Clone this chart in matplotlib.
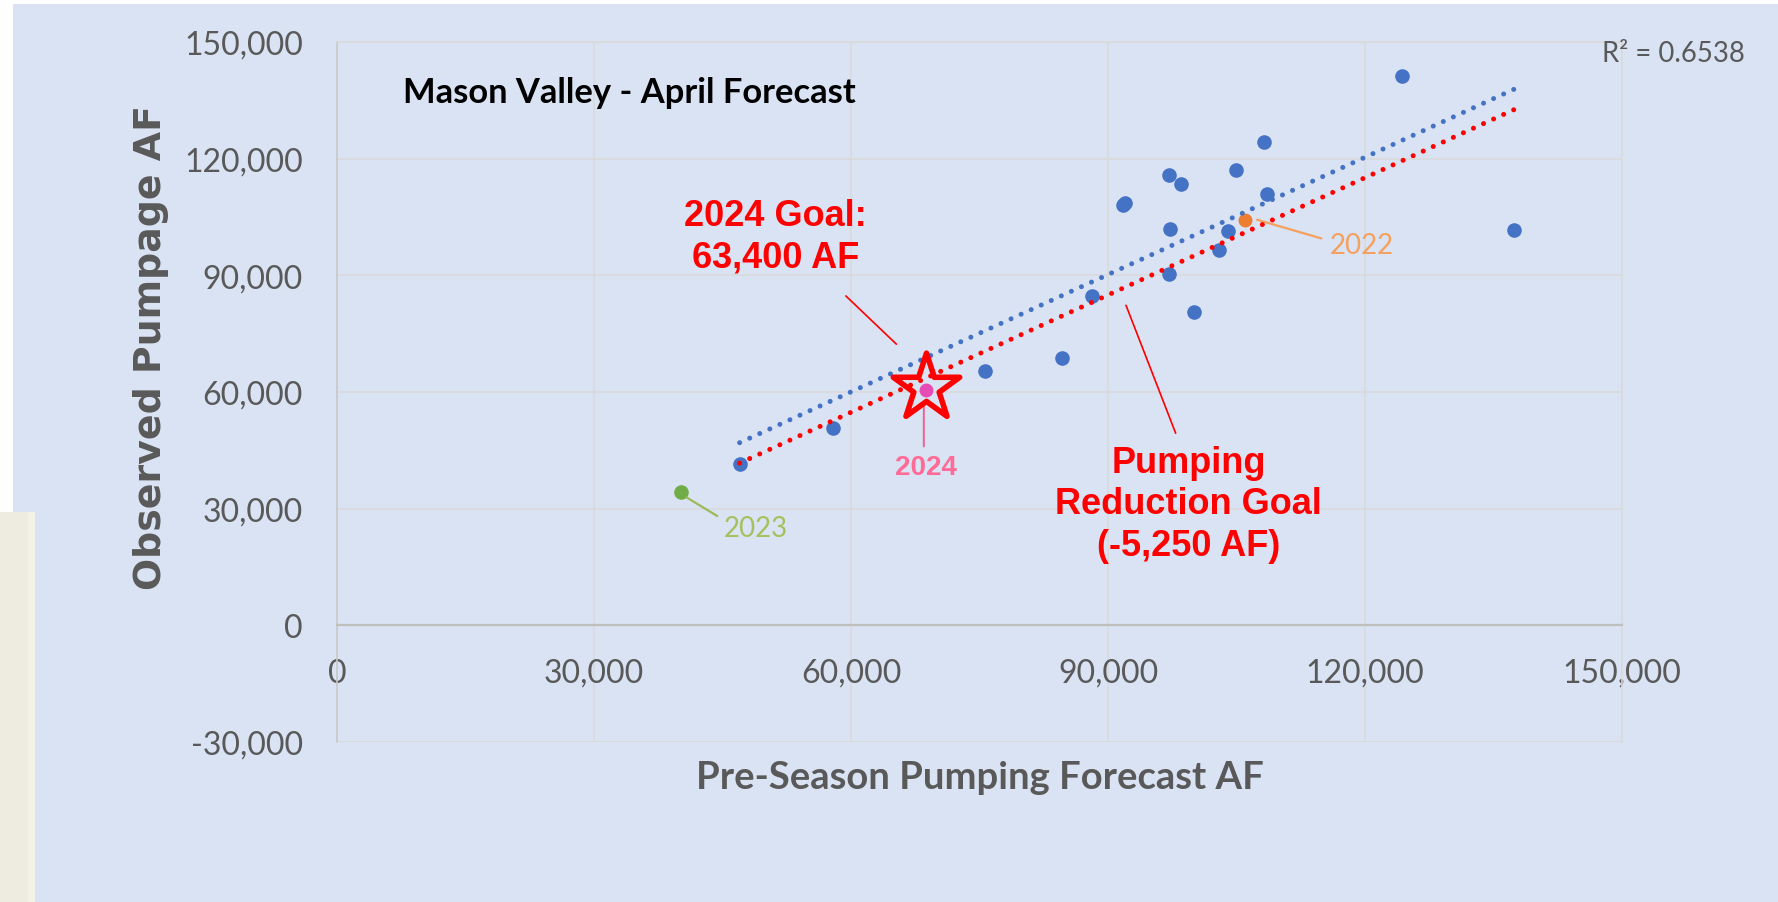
import matplotlib
matplotlib.use("Agg")
import matplotlib.pyplot as plt
from matplotlib.patches import Rectangle
from matplotlib.path import Path
import numpy as np

plt.rcParams['font.family'] = ['Lato', 'DejaVu Sans']

# ---------------- data ----------------
hist_forecast = [47000, 57900, 75600, 84600, 88100, 91700, 92000, 97100, 98500,
                 97200, 97100, 100000, 102900, 104000, 104900, 108200, 108600,
                 124300, 137400]
hist_observed = [41500, 50700, 65300, 68800, 84800, 108100, 108600, 115800, 113400,
                 101900, 90300, 80600, 96600, 101500, 117100, 124200, 111000,
                 141200, 101600]

pt_2022 = (106000, 104300)
pt_2023 = (40100, 34200)
pt_2024 = (68700, 60500)
goal_2024 = 63400
goal_reduction = 5250

trend_slope = 1.0055
trend_intercept = -300
r_squared_text = "R² = 0.6538"

x_ticks = [0, 30000, 60000, 90000, 120000, 150000]
y_ticks = [-30000, 0, 30000, 60000, 90000, 120000, 150000]

# ---------------- figure ----------------
W, H = 1778, 903
fig = plt.figure(figsize=(W / 100, H / 100), dpi=100, facecolor='white')
fig.patches.append(Rectangle((13 / W, 0), 1 - 13 / W, 1 - 5 / H, transform=fig.transFigure,
                             facecolor='#DAE3F3', edgecolor='none', zorder=-10))
# beige paper strip at lower-left
fig.patches.append(Rectangle((0, 0), 33 / W, (H - 513) / H, transform=fig.transFigure,
                             facecolor='#EEECE1', edgecolor='none', zorder=-9))
fig.patches.append(Rectangle((28 / W, 0), 7 / W, (H - 513) / H, transform=fig.transFigure,
                             facecolor='#F3F1E8', edgecolor='none', zorder=-9))

ax = fig.add_axes([337 / W, 1 - 743 / H, 1285 / W, 700 / H])
ax.set_facecolor('#DAE3F3')
ax.set_xlim(0, 150000)
ax.set_ylim(-30000, 150000)
ax.set_xticks(x_ticks)
ax.set_yticks(y_ticks)
ax.set_xticklabels([f"{v:,}" for v in x_ticks])
ax.set_yticklabels([f"{v:,}" for v in y_ticks])
ax.grid(True, color='#D9D9D9', lw=1.1)
ax.set_axisbelow(True)

ax.spines['bottom'].set_position(('data', 0))
ax.spines['bottom'].set_color('#BFBFBF')
ax.spines['bottom'].set_linewidth(1.6)
ax.spines['left'].set_color('#C8C8C8')
ax.spines['left'].set_linewidth(1.2)
for s in ('top', 'right'):
    ax.spines[s].set_color('#D9D9D9')
    ax.spines[s].set_linewidth(1.1)
ax.axhline(-30000, color='#D9D9D9', lw=2.2, zorder=0.5)

ax.tick_params(axis='both', length=0, labelsize=23, labelcolor='#595959')
ax.tick_params(axis='x', pad=23.4)
ax.tick_params(axis='y', pad=24.5)

ax.set_xlabel('Pre-Season Pumping Forecast AF', fontsize=27.5, fontweight='bold', color='#595959')
ax.xaxis.set_label_coords(0.5004, -0.05)
ax.xaxis.label.set_va('center')
ax.set_ylabel('Observed Pumpage AF', fontsize=27.3, fontweight='bold', color='#595959',
              family='DejaVu Sans')
ax.yaxis.set_label_coords(-0.1447, 0.565)
ax.yaxis.label.set_va('center')

ax.text(0.051, 0.929, 'Mason Valley - April Forecast', transform=ax.transAxes,
        fontsize=24.8, fontweight='bold', color='black', ha='left', va='center')
fig.text(0.9414, 0.9398, r_squared_text, fontsize=19.8, color='#595959', ha='center', va='center')

# ---------------- points ----------------
ax.plot(hist_forecast, hist_observed, 'o', ms=10.5, color='#4472C4', mec='none', zorder=3)
ax.plot(*pt_2022, 'o', ms=10, color='#ED7D31', mec='none', zorder=3)
ax.plot(*pt_2023, 'o', ms=10.5, color='#70AD47', mec='none', zorder=3)

# ---------------- trend lines ----------------
tx = np.array([min(hist_forecast), max(hist_forecast)], dtype=float)
ty = trend_slope * tx + trend_intercept
dot = (0, (0.01, 2.2))
ax.plot(tx, ty, color='#4472C4', lw=3.6, ls=dot, dash_capstyle='round', zorder=4)
ax.plot(tx, ty - goal_reduction, color='#FF0000', lw=3.6, ls=dot, dash_capstyle='round', zorder=4)

ax.plot(*pt_2024, 'o', ms=10, color='#E64DB4', mec='none', zorder=5)

# star marker, anchored slightly above its bounding-box centre (as drawn in Excel)
star = Path.unit_regular_star(5, 0.381966)
sv = star.vertices.copy()
sv[:, 1] -= (sv[:, 1].max() + sv[:, 1].min()) / 2 + 0.15
star_path = Path(sv, star.codes)
ax.plot(pt_2024[0], goal_2024, marker=star_path, ms=53, mfc='none', mec='#FF0000',
        mew=4.0, zorder=6)

# ---------------- annotations ----------------
def leader(p0, p1, color, lw):
    ax.annotate('', xy=p1, xytext=p0,
                arrowprops=dict(arrowstyle='-', color=color, lw=lw, shrinkA=0, shrinkB=0))

leader((107400, 104300), (114900, 99500), '#F4A05E', 1.6)
ax.text(115900, 97800, '2022', fontsize=20, color='#F4A05E', ha='left', va='center')

leader((40800, 32900), (44400, 28100), '#9BBB59', 1.6)
ax.text(45100, 25100, '2023', fontsize=20, color='#A5C05F', ha='left', va='center')

leader((68500, 57300), (68500, 46000), '#F0608F', 1.4)
ax.text(68800, 40700, '2024', fontsize=20, fontweight='bold', color='#FF6B97',
        ha='center', va='center', family='Liberation Sans')

red_font = dict(family=['Liberation Sans Narrow', 'Liberation Sans'], fontsize=26,
                fontweight='bold', color='#FF0000', ha='center', va='center',
                multialignment='center', linespacing=1.24)
ax.text(51200, 100100, '2024 Goal:\n63,400 AF', **red_font)
leader((59400, 84700), (65300, 72300), '#FF0000', 1.2)

ax.text(99400, 31200, 'Pumping\nReduction Goal\n(-5,250 AF)', **red_font)
leader((92100, 82300), (97900, 49400), '#FF0000', 1.2)

fig.savefig('out.png', dpi=100, facecolor=fig.get_facecolor())
